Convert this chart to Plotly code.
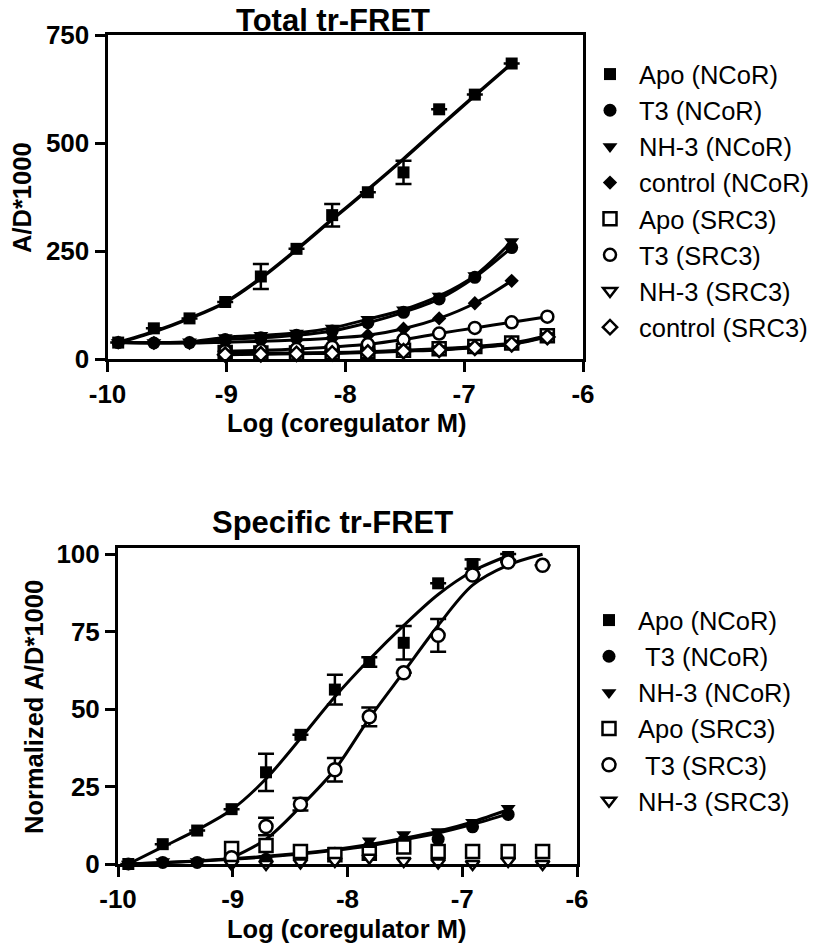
import plotly.graph_objects as go

W, H = 824, 952

# ---------------- data ----------------
# log concentrations (2-fold dilutions)
x_ncor = [-9.91, -9.61, -9.31, -9.01, -8.71, -8.41, -8.11, -7.81, -7.51, -7.21, -6.91, -6.60]
x_src3 = [-9.01, -8.71, -8.41, -8.11, -7.81, -7.51, -7.21, -6.91, -6.60, -6.30]

# Total tr-FRET (A/D*1000)
tot_apo_ncor = [38, 71, 94, 132, 191, 255, 333, 386, 432, 578, 612, 684]
tot_apo_ncor_err = [None, None, None, None, 29, None, 26, None, 27, None, None, None]
tot_apo_ncor_fit = [38, 63, 94, 131, 187, 253, 323, 392, 463, 537, 610, 684]
tot_t3_ncor = [38, 37, 38, 45, 49, 55, 65, 84, 108, 139, 189, 258]
tot_nh3_ncor = [38, 38, 40, 50, 55, 60, 72, 92, 114, 146, 193, 272]
tot_ctrl_ncor = [38, 37, 37, 39, 41, 44, 48, 55, 70, 94, 129, 181]
tot_apo_src3 = [15, 14, 14, 15, 17, 20, 24, 29, 37, 54]
tot_t3_src3 = [18, 20, 23, 28, 34, 45, 59, 72, 85, 98]
tot_nh3_src3 = [12, 12, 13, 14, 16, 19, 22, 27, 35, 52]
tot_ctrl_src3 = [10, 11, 12, 13, 15, 18, 21, 26, 34, 51]

# Specific tr-FRET (normalized)
spec_apo_ncor = [0, 6.4, 10.8, 17.7, 29.6, 41.7, 56.3, 65.2, 71.4, 90.6, 96.8, 99.1]
spec_apo_ncor_err = [None, None, None, None, 6, None, 4.8, 1.5, 5.4, None, 1.5, 1]
spec_apo_ncor_fit = [0, 5.5, 11, 17.5, 27.5, 40.5, 54, 66, 77, 87, 94.5, 99.5]
spec_t3_ncor = [0, 0.5, 0.5, 1, 1.5, 2.5, 3.5, 5.5, 7.5, 8, 12, 16]
spec_t3_ncor_fit = [0, 0.4, 0.9, 1.5, 2.3, 3.2, 4.4, 5.9, 7.8, 10, 12.8, 16.2]
spec_nh3_ncor = [0, 0.8, 0.8, 1.2, 1.8, 3, 4.5, 7.5, 9.5, 10.5, 13.5, 18]
spec_nh3_ncor_fit = [0, 0.5, 1.0, 1.7, 2.5, 3.5, 4.7, 6.3, 8.3, 10.6, 13.6, 17.5]
spec_apo_src3 = [5, 6, 4, 3, 3.5, 5.5, 4, 4, 4, 4]
spec_t3_src3 = [2, 12.1, 19.3, 30.4, 47.5, 61.7, 73.8, 93.3, 97.5, 96.4]
spec_t3_src3_err = [None, 2.8, 2, 3.8, 3, None, 5.3, None, None, None]
spec_t3_src3_fit = [2, 8, 18.5, 30.5, 47, 62, 77, 90, 96.5, 100]
spec_nh3_src3 = [0, 0, 0.5, 1, 2, 1, 0.5, 0, 1, 0]

x_tick_vals = [-10, -9, -8, -7, -6]
x_tick_text = ["-10", "-9", "-8", "-7", "-6"]
y1_tick_vals = [0, 250, 500, 750]
y1_tick_text = ["0", "250", "500", "750"]
y2_tick_vals = [0, 25, 50, 75, 100]
y2_tick_text = ["0", "25", "50", "75", "100"]

FONT = "Liberation Sans, Arial, sans-serif"
BLACK = "#000000"


def px_x(p):
    return p / W


def px_y(p):
    return 1 - p / H


fig = go.Figure()


def add_curve(x, y, xa, ya, width=3):
    fig.add_trace(go.Scatter(
        x=x, y=y, mode="lines", xaxis=xa, yaxis=ya,
        line=dict(color=BLACK, width=width, shape="spline", smoothing=0.9),
        showlegend=False, hoverinfo="skip", cliponaxis=False))


def add_points(x, y, name, symbol, filled, size, xa, ya, legend, err=None):
    marker = dict(symbol=symbol, size=size,
                  color=BLACK if filled else "white",
                  line=dict(color=BLACK, width=0 if filled else 2.5))
    kw = {}
    if err is not None:
        kw["error_y"] = dict(type="data", array=err, visible=True,
                             color=BLACK, thickness=2.5, width=8)
    fig.add_trace(go.Scatter(
        x=x, y=y, mode="markers", name=name, marker=marker,
        xaxis=xa, yaxis=ya, legend=legend, cliponaxis=False, **kw))


# ---- top chart curves ----
add_curve(x_src3, tot_ctrl_src3, "x", "y")
add_curve(x_src3, tot_nh3_src3, "x", "y")
add_curve(x_src3, tot_apo_src3, "x", "y")
add_curve(x_src3, tot_t3_src3, "x", "y")
add_curve(x_ncor, tot_ctrl_ncor, "x", "y")
add_curve(x_ncor, tot_t3_ncor, "x", "y")
add_curve(x_ncor, tot_nh3_ncor, "x", "y")
add_curve(x_ncor, tot_apo_ncor_fit, "x", "y", width=3.5)

# ---- top chart points ----
add_points(x_ncor, tot_apo_ncor, "Apo (NCoR)", "square", True, 12, "x", "y", "legend", tot_apo_ncor_err)
add_points(x_ncor, tot_t3_ncor, "T3 (NCoR)", "circle", True, 13, "x", "y", "legend")
add_points(x_ncor, tot_nh3_ncor, "NH-3 (NCoR)", "triangle-down", True, 13, "x", "y", "legend")
add_points(x_ncor, tot_ctrl_ncor, "control (NCoR)", "diamond", True, 11, "x", "y", "legend")
add_points(x_src3, tot_apo_src3, "Apo (SRC3)", "square", False, 13, "x", "y", "legend")
add_points(x_src3, tot_t3_src3, "T3 (SRC3)", "circle", False, 12, "x", "y", "legend")
add_points(x_src3, tot_nh3_src3, "NH-3 (SRC3)", "triangle-down", False, 12, "x", "y", "legend")
add_points(x_src3, tot_ctrl_src3, "control (SRC3)", "diamond", False, 11, "x", "y", "legend")

# ---- bottom chart curves ----
add_curve(x_ncor, spec_t3_ncor_fit, "x2", "y2")
add_curve(x_ncor, spec_nh3_ncor_fit, "x2", "y2")
add_curve(x_src3, spec_t3_src3_fit, "x2", "y2")
add_curve(x_ncor, spec_apo_ncor_fit, "x2", "y2")

# ---- bottom chart points ----
add_points(x_ncor, spec_apo_ncor, "Apo (NCoR)", "square", True, 12, "x2", "y2", "legend2", spec_apo_ncor_err)
add_points(x_ncor, spec_t3_ncor, "\u00a0T3 (NCoR)", "circle", True, 13, "x2", "y2", "legend2")
add_points(x_ncor, spec_nh3_ncor, "NH-3 (NCoR)", "triangle-down", True, 13, "x2", "y2", "legend2")
add_points(x_src3, spec_apo_src3, "Apo (SRC3)", "square", False, 13, "x2", "y2", "legend2")
add_points(x_src3, spec_t3_src3, "\u00a0T3 (SRC3)", "circle", False, 13, "x2", "y2", "legend2", spec_t3_src3_err)
add_points(x_src3, spec_nh3_src3, "NH-3 (SRC3)", "triangle-down", False, 12, "x2", "y2", "legend2")

axis_common = dict(showline=True, linewidth=3, linecolor=BLACK, mirror=True,
                   ticks="outside", ticklen=10, tickwidth=3, tickcolor=BLACK,
                   showgrid=False, zeroline=False, automargin=False,
                   tickfont=dict(family=FONT, size=26, color=BLACK, weight="bold"))

legend_font = dict(family=FONT, size=25.5, color=BLACK)

fig.update_layout(
    width=W, height=H,
    margin=dict(l=0, r=0, t=0, b=0),
    paper_bgcolor="white", plot_bgcolor="white",
    font=dict(family=FONT, color=BLACK),
    xaxis=dict(domain=[px_x(107.5), px_x(583)], range=[-10, -6], anchor="y",
               tickvals=x_tick_vals, ticktext=x_tick_text, **axis_common),
    yaxis=dict(domain=[px_y(359), px_y(35)], range=[0, 750], anchor="x",
               tickvals=y1_tick_vals, ticktext=y1_tick_text, **axis_common),
    xaxis2=dict(domain=[px_x(118), px_x(577)], range=[-10, -6], anchor="y2",
                tickvals=x_tick_vals, ticktext=x_tick_text, **axis_common),
    yaxis2=dict(domain=[px_y(864), px_y(548)], range=[0, 102], anchor="x2",
                tickvals=y2_tick_vals, ticktext=y2_tick_text, **axis_common),
    legend=dict(x=px_x(581), xanchor="left", y=px_y(51), yanchor="top",
                font=legend_font, itemwidth=48,
                bgcolor="rgba(0,0,0,0)", borderwidth=0, tracegroupgap=0),
    legend2=dict(x=px_x(580), xanchor="left", y=px_y(597), yanchor="top",
                 font=legend_font, itemwidth=48,
                 bgcolor="rgba(0,0,0,0)", borderwidth=0, tracegroupgap=0),
    showlegend=True,
)

bold = dict(family=FONT, size=25.5, color=BLACK, weight="bold")
title_font = dict(family=FONT, size=31, color=BLACK, weight="bold")
annotations = [
    dict(text="Total tr-FRET", x=px_x(333), y=px_y(20), font=title_font),
    dict(text="Specific tr-FRET", x=px_x(332), y=px_y(522), font=title_font),
    dict(text="Log (coregulator M)", x=px_x(346), y=px_y(423), font=bold),
    dict(text="Log (coregulator M)", x=px_x(346), y=px_y(929), font=bold),
    dict(text="A/D*1000", x=px_x(22), y=px_y(198), font=bold, textangle=-90),
    dict(text="Normalized A/D*1000", x=px_x(34), y=px_y(707), font=bold, textangle=-90),
]
for a in annotations:
    a.update(xref="paper", yref="paper", showarrow=False, xanchor="center",
             yanchor="middle", borderpad=0)
fig.update_layout(annotations=annotations)

# remove the default page margin so the 824x952 figure fills the window exactly
fig.write_html("out.html",
               config={"displayModeBar": False},
               post_script="document.body.style.margin='0';"
                           "document.body.style.overflow='hidden';")
